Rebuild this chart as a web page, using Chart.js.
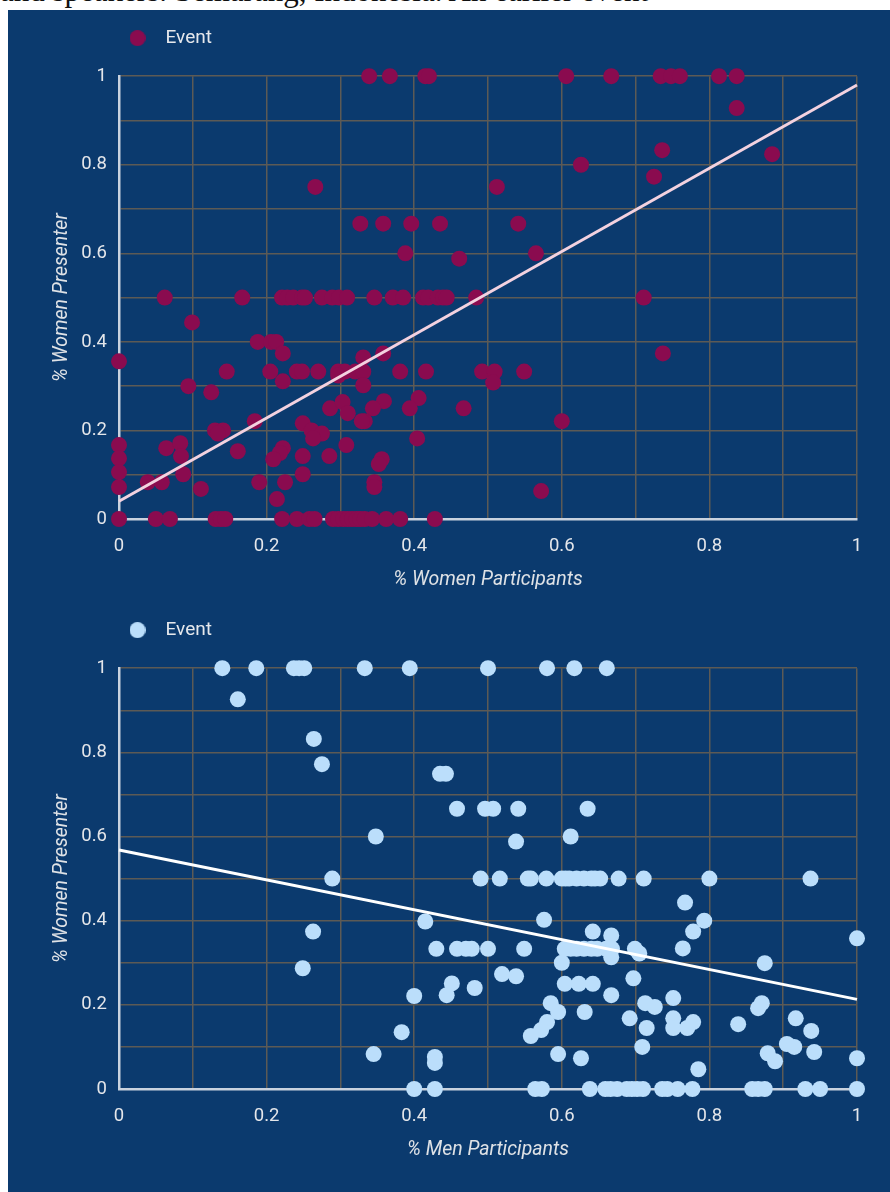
<!DOCTYPE html>
<html>
<head>
<meta charset="utf-8">
<script src="https://cdn.jsdelivr.net/npm/chart.js@4.4.1/dist/chart.umd.min.js"></script>
<style>
  body { margin: 0; background: #fff; width: 890px; height: 1192px; overflow: hidden; position: relative; }
  #caption { position: absolute; left: 0; top: 0; width: 890px; height: 10px; overflow: hidden; }
  #caption span { position: absolute; left: 0; top: -25px; font: 31px/31px 'Liberation Serif', serif; color: #111; white-space: nowrap; }
  #panel { position: absolute; left: 8px; top: 10px; width: 882px; height: 1182px; background: #0b3a6e; }
  canvas { display: block; }
</style>
</head>
<body>
<div id="caption"><span>and speakers. Semarang, Indonesia. An earlier event</span></div>
<div id="panel">
  <canvas id="women" width="882" height="590"></canvas>
  <canvas id="men" width="882" height="592"></canvas>
</div>
<script>
// shared axis ticks (labels every 0.2, grid every 0.1)
const tickLabels = ['0', '', '0.2', '', '0.4', '', '0.6', '', '0.8', '', '1']

// chart 1: % women participants vs % women presenters
const womenX = [
  0.339, 0.367, 0.415, 0.42, 0.606, 0.667, 0.734, 0.748, 0.76, 0.813, 0.837,
  0.837, 0.736, 0.725, 0.885, 0.711, 0.737, 0.626, 0.512, 0.266,
  0.327, 0.358, 0.396, 0.435, 0.541,
  0.388, 0.461, 0.565,
  0.062, 0.167, 0.221, 0.228, 0.236, 0.248, 0.252, 0.275, 0.289, 0.298, 0.309, 0.346, 0.371, 0.385, 0.412, 0.419, 0.432, 0.439, 0.444, 0.484,
  0.099, 0, 0.188, 0.206, 0.213, 0.222,
  0.146, 0.205, 0.241, 0.248, 0.27, 0.297, 0.306, 0.32, 0.331, 0.381, 0.416, 0.492, 0.509, 0.549,
  0.222, 0.094, 0.125, 0.297, 0.331, 0.331, 0.358, 0.507,
  0.359, 0.344, 0.333, 0.406, 0.394, 0.467, 0.6, 0.404, 0.356, 0.352, 0.346, 0.346, 0.572,
  0.286, 0.303, 0.31, 0.329, 0.184, 0.13, 0.141, 0.134,
  0.249, 0.261, 0.275, 0.263, 0.308,
  0, 0, 0, 0,
  0.064, 0.083, 0.084, 0.087, 0.161, 0.222, 0.218, 0.209,
  0.249, 0.285, 0.249, 0.039, 0.058, 0.111, 0.19, 0.225, 0.214,
  0, 0.05, 0.069, 0.131, 0.138, 0.144, 0.221, 0.241, 0.258, 0.265, 0.29, 0.297, 0.304, 0.31, 0.316, 0.322, 0.327, 0.333, 0.343, 0.362, 0.381, 0.428
]
const womenY = [
  1, 1, 1, 1, 1, 1, 1, 1, 1, 1, 1,
  0.928, 0.833, 0.773, 0.824, 0.5, 0.374, 0.8, 0.75, 0.75,
  0.667, 0.667, 0.667, 0.667, 0.667,
  0.6, 0.588, 0.6,
  0.5, 0.5, 0.5, 0.5, 0.5, 0.5, 0.5, 0.5, 0.5, 0.5, 0.5, 0.5, 0.5, 0.5, 0.5, 0.5, 0.5, 0.5, 0.5, 0.5,
  0.444, 0.356, 0.4, 0.4, 0.4, 0.374,
  0.333, 0.333, 0.333, 0.333, 0.333, 0.333, 0.333, 0.333, 0.333, 0.333, 0.333, 0.333, 0.333, 0.333,
  0.311, 0.3, 0.286, 0.324, 0.365, 0.302, 0.374, 0.308,
  0.266, 0.25, 0.221, 0.273, 0.25, 0.25, 0.221, 0.182, 0.135, 0.124, 0.083, 0.072, 0.063,
  0.25, 0.264, 0.239, 0.221, 0.221, 0.2, 0.2, 0.193,
  0.216, 0.2, 0.193, 0.182, 0.167,
  0.167, 0.137, 0.106, 0.072,
  0.16, 0.171, 0.142, 0.101, 0.153, 0.16, 0.149, 0.135,
  0.142, 0.142, 0.101, 0.083, 0.083, 0.068, 0.083, 0.083, 0.045,
  0, 0, 0, 0, 0, 0, 0, 0, 0, 0, 0, 0, 0, 0, 0, 0, 0, 0, 0, 0, 0, 0
]
const womenTrend = [0.04, 0.98]

// chart 2: % men participants vs % women presenters
const menX = [
  0.14, 0.186, 0.237, 0.244, 0.251, 0.333, 0.394, 0.5, 0.58, 0.617, 0.661,
  0.161, 0.264, 0.275, 0.435, 0.443,
  0.458, 0.496, 0.507, 0.541, 0.635,
  0.348, 0.538, 0.612,
  0.289, 0.49, 0.516, 0.554, 0.558, 0.579, 0.6, 0.605, 0.61, 0.62, 0.63, 0.64, 0.645, 0.652, 0.677, 0.711, 0.8, 0.937,
  0.767, 0.793, 0.778, 0.764, 0.576, 0.642, 0.667,
  0.43, 0.458, 0.47, 0.478, 0.5, 0.549, 0.604, 0.612, 0.62, 0.63, 0.64, 0.648, 0.66, 0.668, 0.699, 0.705,
  0.415,
  0.667, 0.6, 0.875, 0.519, 0.538, 0.604, 0.623, 0.642, 0.697, 0.667, 0.585, 0.595, 0.631, 0.58, 0.572, 0.558,
  0.713, 0.726, 0.751, 0.692, 0.715, 0.751, 0.751, 0.77, 0.778, 0.839, 0.866, 0.871, 0.917, 0.938,
  0.709, 0.595, 0.626, 0.785, 0.879, 0.889, 0.905, 0.915, 0.942, 1, 1,
  0.263, 0.249, 0.451, 0.444, 0.482, 0.4, 0.383, 0.345, 0.428, 0.428,
  0.4, 0.428, 0.564, 0.573, 0.638, 0.659, 0.666, 0.675, 0.688, 0.695, 0.702, 0.71, 0.736, 0.743, 0.757, 0.777, 0.858, 0.866, 0.875, 0.93, 0.95, 1
]
const menY = [
  1, 1, 1, 1, 1, 1, 1, 1, 1, 1, 1,
  0.926, 0.832, 0.772, 0.749, 0.749,
  0.666, 0.666, 0.666, 0.666, 0.666,
  0.6, 0.588, 0.6,
  0.5, 0.5, 0.5, 0.5, 0.5, 0.5, 0.5, 0.5, 0.5, 0.5, 0.5, 0.5, 0.5, 0.5, 0.5, 0.5, 0.5, 0.5,
  0.443, 0.4, 0.374, 0.334, 0.402, 0.374, 0.365,
  0.333, 0.333, 0.333, 0.333, 0.333, 0.333, 0.333, 0.333, 0.333, 0.333, 0.333, 0.333, 0.333, 0.333, 0.333, 0.322,
  0.398,
  0.313, 0.3, 0.299, 0.273, 0.268, 0.25, 0.25, 0.25, 0.263, 0.223, 0.204, 0.183, 0.183, 0.159, 0.14, 0.126,
  0.204, 0.195, 0.216, 0.168, 0.145, 0.168, 0.145, 0.145, 0.159, 0.154, 0.192, 0.204, 0.168, 0.138,
  0.1, 0.083, 0.073, 0.047, 0.085, 0.066, 0.107, 0.1, 0.088, 0.358, 0.073,
  0.374, 0.287, 0.251, 0.223, 0.24, 0.221, 0.135, 0.083, 0.076, 0.062,
  0, 0, 0, 0, 0, 0, 0, 0, 0, 0, 0, 0, 0, 0, 0, 0, 0, 0, 0, 0, 0, 0
]
const menTrend = [0.568, 0.213]
const trendX = [0, 1]

const FONT = "Roboto, 'Noto Sans', sans-serif"

function dot(color) {
    const c = document.createElement('canvas')
    c.width = c.height = 16
    const g = c.getContext('2d')
    g.fillStyle = color
    g.beginPath()
    g.arc(8, 8, 8, 0, Math.PI * 2)
    g.fill()
    return c
}

// push the plot down below the legend
const legendGap = {
    id: 'legendGap',
    beforeInit(chart) {
        const fit = chart.legend.fit
        chart.legend.fit = function () {
            fit.call(this)
            this.height += 18.6
        }
    }
}

function scatter(id, { xs, ys, trend, color, lineColor, xTitle, padTop, padBottom }) {
    const points = xs.map((x, i) => ({ x, y: ys[i] }))
    const line = trendX.map((x, i) => ({ x, y: trend[i] }))
    const axis = (title, side) => ({
        type: 'linear',
        min: 0,
        max: 1,
        ticks: {
            stepSize: 0.1,
            autoSkip: false,
            maxRotation: 0,
            padding: side === 'x' ? 16 : 12,
            color: '#e4e6ea',
            font: { family: FONT, size: 18.5 },
            callback: (v, i) => tickLabels[i]
        },
        grid: { color: '#5d5a55', lineWidth: 1.5, drawTicks: false },
        border: { color: '#c9d2de', width: 2.5 },
        title: {
            display: true,
            text: title,
            color: '#dfe2e6',
            padding: { top: 4, bottom: 4 },
            font: { family: FONT, size: 19.5, style: 'italic' }
        },
        afterFit: side === 'x' ? (s) => { s.height = 77 } : (s) => { s.width = 73 }
    })
    return new Chart(document.getElementById(id), {
        type: 'scatter',
        data: {
            datasets: [
                {
                    label: 'Event',
                    data: points,
                    backgroundColor: color,
                    borderWidth: 0,
                    pointRadius: 8,
                    pointHoverRadius: 8,
                    clip: false,
                    order: 2
                },
                {
                    label: 'trend',
                    data: line,
                    showLine: true,
                    borderColor: lineColor,
                    borderWidth: 3,
                    pointRadius: 0,
                    clip: false,
                    order: 1
                }
            ]
        },
        options: {
            responsive: false,
            animation: false,
            devicePixelRatio: 1,
            layout: { padding: { left: 38, right: 33, top: padTop, bottom: padBottom } },
            scales: {
                x: axis(xTitle, 'x'),
                y: axis('% Women Presenter', 'y')
            },
            plugins: {
                tooltip: { enabled: false },
                legend: {
                    position: 'top',
                    align: 'start',
                    fullSize: false,
                    labels: {
                        usePointStyle: true,
                        pointStyle: dot(color),
                        pointStyleWidth: 37,
                        padding: 0,
                        color: '#e6e8ec',
                        font: { family: FONT, size: 19 },
                        filter: (item) => item.text === 'Event'
                    }
                }
            }
        },
        plugins: [legendGap]
    })
}

scatter('women', {
    xs: womenX, ys: womenY, trend: womenTrend,
    color: '#8a0b4f', lineColor: '#f3d2e0',
    xTitle: '% Women Participants', padTop: 18.6, padBottom: 4
})
scatter('men', {
    xs: menX, ys: menY, trend: menTrend,
    color: '#bbdefb', lineColor: '#ffffff',
    xTitle: '% Men Participants', padTop: 20.6, padBottom: 26
})
</script>
</body>
</html>
